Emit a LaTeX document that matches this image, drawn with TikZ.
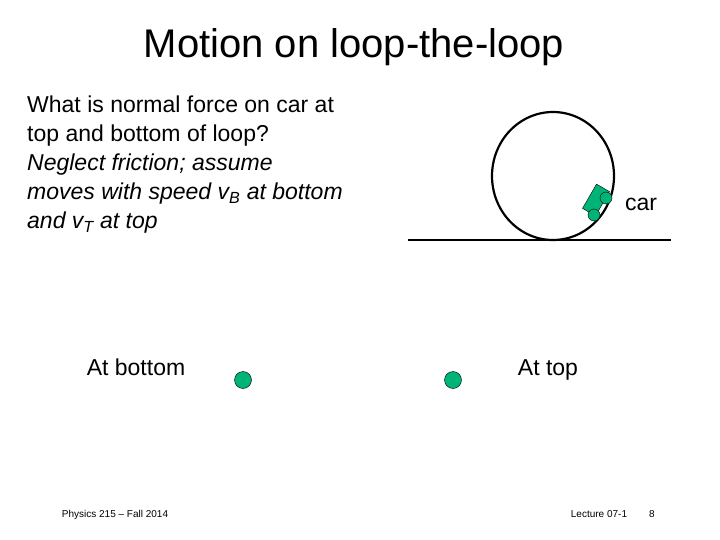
\documentclass[tikz,border=0pt]{standalone}
\usepackage{fontspec}
\setmainfont{Liberation Sans}
\definecolor{cargreen}{RGB}{0,179,119}
\begin{document}
\begin{tikzpicture}[x=1pt,y=-1pt,
  label text/.style={anchor=base,font=\fontsize{23}{28}\selectfont},
  foot text/.style={anchor=base,font=\fontsize{10}{12}\selectfont}]
\useasboundingbox[fill=white] (0,0) rectangle (720,540);
% title and text
\node (title) [anchor=base,font=\fontsize{40}{46}\selectfont] at (354,58) {Motion on loop-the-loop};
\node (question) [anchor=north west,inner sep=0pt,align=left,font=\fontsize{23}{29}\selectfont] at (27,96)
  {What is normal force on car at\\
   top and bottom of loop?\\
   \textit{Neglect friction; assume}\\
   \textit{moves with speed v\textsubscript{B} at bottom}\\
   \textit{and v\textsubscript{T} at top}};
% loop and ground
\draw[line width=2.2pt] (553,176) circle[x radius=61,y radius=64];
\draw[line width=2.2pt] (408,240) -- (671,240);
% car
\node (body) [draw,fill=cargreen,minimum width=28,minimum height=15,inner sep=0pt,rotate=60] at (596,200) {};
\node (wheelA) [draw,fill=cargreen,circle,minimum size=12,inner sep=0pt] at (606,198) {};
\node (wheelB) [draw,fill=cargreen,circle,minimum size=12,inner sep=0pt] at (594,215) {};
\node (car) [label text] at (641,211) {car};
% free body sketches
\node (bottom) [label text] at (136,375) {At bottom};
\node (top) [label text] at (548,375) {At top};
\node (dotB) [draw,fill=cargreen,circle,minimum size=17,inner sep=0pt] at (243,380) {};
\node (dotT) [draw,fill=cargreen,circle,minimum size=17,inner sep=0pt] at (453,380) {};
% footer
\node (foot1) [foot text] at (115,517) {Physics 215 -- Fall 2014};
\node (foot2) [foot text] at (599,517) {Lecture 07-1};
\node (foot3) [foot text] at (652,517) {8};
\end{tikzpicture}
\end{document}
